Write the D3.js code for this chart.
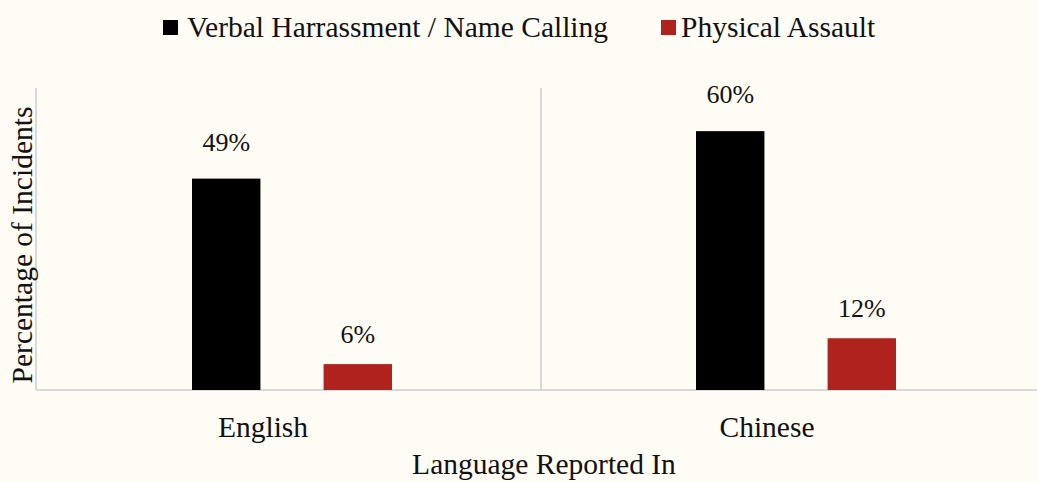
<!DOCTYPE html>
<html>
<head>
<meta charset="utf-8">
<script src="https://cdn.jsdelivr.net/npm/d3@7"></script>
<style>
  html, body { margin: 0; padding: 0; background: #fefcf4; }
  svg { display: block; }
  text { font-family: "Liberation Serif", "DejaVu Serif", serif; fill: #111; }
</style>
</head>
<body>
<svg id="chart" width="1037" height="482"></svg>
<script>
// Incident types by the language the report was filed in
const languages = ["English", "Chinese"];
const seriesNames = ["Verbal Harrassment / Name Calling", "Physical Assault"];
const verbalValues = [49, 60];
const physicalValues = [6, 12];
const seriesColors = ["#000000", "#b0221d"];

const W = 1037, H = 482;
const margin = { top: 88, right: -9, bottom: 90, left: 38 };
const titleSize = 29.5;
const svg = d3.select("#chart");

const rows = languages.map((lang, i) => ({
  lang,
  values: [verbalValues[i], physicalValues[i]]
}));

const x0 = d3.scaleBand()
  .domain(languages)
  .range([margin.left, W - margin.right]);

const x1 = d3.scaleBand()
  .domain(d3.range(seriesNames.length))
  .range([-98, 102])
  .paddingInner(0.48);

const y = d3.scaleLinear()
  .domain([0, 70])
  .range([H - margin.bottom - 2, margin.top]);

const gridColor = "#d9d9d9";
const baseY = y(0);

// Frame: left axis, baseline and group divider
svg.append("line")
  .attr("x1", margin.left - 2).attr("x2", margin.left - 2)
  .attr("y1", y(70)).attr("y2", baseY)
  .attr("stroke", gridColor).attr("stroke-width", 2);
svg.append("line")
  .attr("x1", margin.left - 2).attr("x2", W)
  .attr("y1", baseY).attr("y2", baseY)
  .attr("stroke", gridColor).attr("stroke-width", 2);
svg.append("line")
  .attr("x1", x0("Chinese") - 1).attr("x2", x0("Chinese") - 1)
  .attr("y1", y(70)).attr("y2", baseY)
  .attr("stroke", gridColor).attr("stroke-width", 2);

// Bars and value labels
const groups = svg.append("g").selectAll("g")
  .data(rows)
  .join("g")
  .attr("transform", d => `translate(${x0(d.lang) + x0.bandwidth() / 2},0)`);

groups.selectAll("rect")
  .data(d => d.values.map((v, i) => ({ v, i })))
  .join("rect")
  .attr("x", d => x1(d.i))
  .attr("width", x1.bandwidth())
  .attr("y", d => y(d.v))
  .attr("height", d => baseY - y(d.v))
  .attr("fill", d => seriesColors[d.i]);

const labelGap = [28, 21];
groups.selectAll("text.value")
  .data(d => d.values.map((v, i) => ({ v, i })))
  .join("text")
  .attr("class", "value")
  .attr("x", d => x1(d.i) + x1.bandwidth() / 2)
  .attr("y", d => y(d.v) - labelGap[d.i])
  .attr("text-anchor", "middle")
  .attr("font-size", 26)
  .text(d => d.v + "%");

// Category labels
svg.append("g").selectAll("text")
  .data(languages)
  .join("text")
  .attr("x", d => x0(d) + x0.bandwidth() / 2 - 27)
  .attr("y", 437)
  .attr("text-anchor", "middle")
  .attr("font-size", titleSize)
  .text(d => d);

// Axis titles
svg.append("text")
  .attr("x", 544).attr("y", 474)
  .attr("text-anchor", "middle")
  .attr("font-size", titleSize)
  .text("Language Reported In");

svg.append("text")
  .attr("transform", "translate(32,245) rotate(-90)")
  .attr("text-anchor", "middle")
  .attr("font-size", titleSize)
  .text("Percentage of Incidents");

// Legend
const legendItems = [
  { sx: 163, tx: 187 },
  { sx: 661, tx: 681 }
];
const legend = svg.append("g");
seriesNames.forEach((name, i) => {
  legend.append("rect")
    .attr("x", legendItems[i].sx).attr("y", 20)
    .attr("width", 15).attr("height", 15)
    .attr("fill", seriesColors[i]);
  legend.append("text")
    .attr("x", legendItems[i].tx).attr("y", 37)
    .attr("font-size", titleSize)
    .text(name);
});
</script>
</body>
</html>
